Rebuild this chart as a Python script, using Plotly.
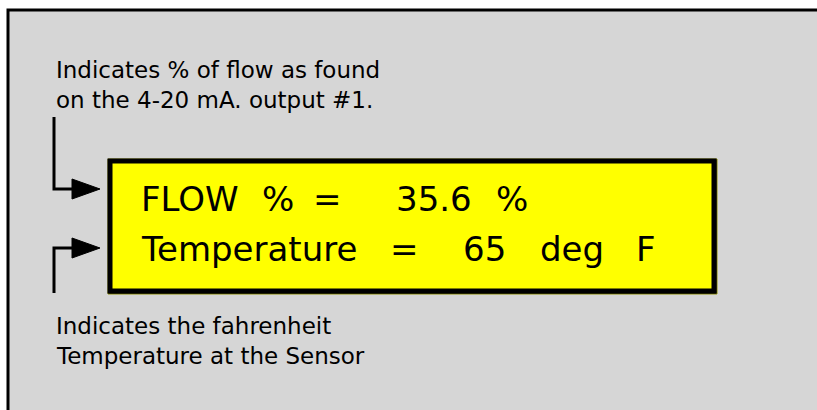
import plotly.graph_objects as go

W, H = 817, 410

# text content
top_note = ["Indicates % of flow as found", "on the 4-20 mA. output #1."]
bottom_note = ["Indicates the fahrenheit", "Temperature at the Sensor"]
line1_tokens = ["FLOW", "%", "=", "35.6", "%"]
line2_tokens = ["Temperature", "=", "65", "deg", "F"]

# layout geometry (pixels)
line1_x = [139, 260, 311, 394, 494]
line2_x = [139, 388, 461, 538, 634]
display_y = [199, 249]
outer_box = (8, 10, 840, 430)
display_box = (110, 161, 714, 291)
note_x = 54
top_note_y = [70, 100]
bottom_note_y = [326, 356]
arrows = [  # (vertical line start y, horizontal y)
    (117, 189),
    (293, 248),
]
line_x = 54
head_x0, head_x1, head_half = 72, 100, 10

shapes = []
shapes.append(dict(type="rect", x0=outer_box[0], y0=outer_box[1], x1=outer_box[2], y1=outer_box[3],
                   line=dict(color="black", width=3), fillcolor="#d6d6d6", layer="below"))
shapes.append(dict(type="rect", x0=108, y0=159, x1=717, y1=294,
                   line=dict(color="#8c8c00", width=1), fillcolor="black"))
shapes.append(dict(type="rect", x0=display_box[0], y0=display_box[1], x1=display_box[2], y1=display_box[3],
                   line=dict(color="black", width=5), fillcolor="#ffff00"))
for ys, yh in arrows:
    shapes.append(dict(type="path", path=f"M {line_x},{ys} L {line_x},{yh} L {head_x0},{yh}",
                       line=dict(color="black", width=3)))
    shapes.append(dict(type="path",
                       path=f"M {head_x0},{yh-head_half} L {head_x1},{yh} L {head_x0},{yh+head_half} Z",
                       line=dict(color="black", width=1), fillcolor="black"))

note_font = dict(family="DejaVu Sans", size=23, color="black")
disp_font = dict(family="DejaVu Sans", size=34, color="black")

annotations = []
for t, y in zip(top_note + bottom_note, top_note_y + bottom_note_y):
    annotations.append(dict(x=note_x, y=y, text=t, xanchor="left", yanchor="middle",
                            showarrow=False, font=note_font))
for tokens, xs, y in ((line1_tokens, line1_x, display_y[0]), (line2_tokens, line2_x, display_y[1])):
    for t, x in zip(tokens, xs):
        annotations.append(dict(x=x, y=y, text=t, xanchor="left", yanchor="middle",
                                showarrow=False, font=disp_font))

fig = go.Figure()
fig.update_layout(
    width=W, height=H, margin=dict(l=0, r=0, t=0, b=0),
    paper_bgcolor="white", plot_bgcolor="white",
    xaxis=dict(range=[0, W], visible=False, fixedrange=True),
    yaxis=dict(range=[H, 0], visible=False, fixedrange=True),
    shapes=shapes, annotations=annotations, showlegend=False,
)
fig.write_html("out.html", config={"displayModeBar": False},
               post_script="document.body.style.margin='0';document.body.style.overflow='hidden';")
